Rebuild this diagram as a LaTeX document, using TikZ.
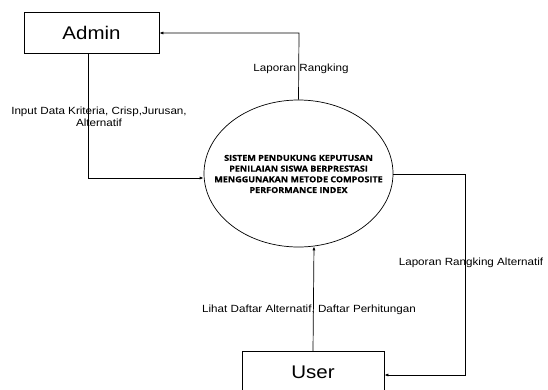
\documentclass[tikz,border=0pt]{standalone}
\usepackage{fontspec}
\setmainfont{Liberation Sans}[FakeStretch=1.12]
\newfontfamily\boldlab{Open Sans}[FakeStretch=1.1,FakeBold=0.6]
\usetikzlibrary{arrows.meta,shapes.geometric}
\begin{document}
\begin{tikzpicture}[x=1pt,y=-1pt,
  ent/.style={draw, line width=0.7pt, minimum width=135pt, minimum height=41pt, inner sep=0pt, font=\fontsize{18.3}{18}\selectfont},
  flow/.style={draw, line width=0.7pt, -{Latex[length=4pt,width=3pt]}},
  lab/.style={font=\fontsize{10.4}{12}\selectfont, inner sep=0pt, align=center}]
\useasboundingbox (0,0) rectangle (548,389);
\node[ent] (admin) at (91.5,32.5) {Admin};
\node[ent, minimum width=142pt] (user) at (313,372) {User};
\node[draw, ellipse, line width=0.7pt, minimum width=189pt, minimum height=147pt, inner sep=0pt] (sys) at (298.5,173.5) {};
\node[align=center, font=\boldlab\bfseries\fontsize{8.2}{10.7}\selectfont] (systext) at (298.5,174) {SISTEM PENDUKUNG KEPUTUSAN\\PENILAIAN SISWA BERPRESTASI\\MENGGUNAKAN METODE COMPOSITE\\PERFORMANCE INDEX};
\coordinate (c1) at (88,178);
\draw[flow] (admin.south -| c1) -- (c1) -- (c1 -| sys.west);
\coordinate (c2) at (299,33);
\draw[flow] (sys.north) -- (c2) -- (c2 -| admin.east);
\coordinate (c3) at (465,174);
\coordinate (c4) at (465,375);
\draw[flow] (c3 -| sys.east) -- (c3) -- (c4) -- (c4 -| user.east);
\draw[flow] (user.north) -- (sys.-78.7);
\node[lab] (l1) at (99,117) {Input Data Kriteria, Crisp,Jurusan,\\Alternatif};
\node[lab] (l2) at (301,69) {Laporan Rangking};
\node[lab] (l3) at (471,263) {Laporan Rangking Alternatif};
\node[lab] (l4) at (309,310) {Lihat Daftar Alternatif, Daftar Perhitungan};
\end{tikzpicture}
\end{document}
